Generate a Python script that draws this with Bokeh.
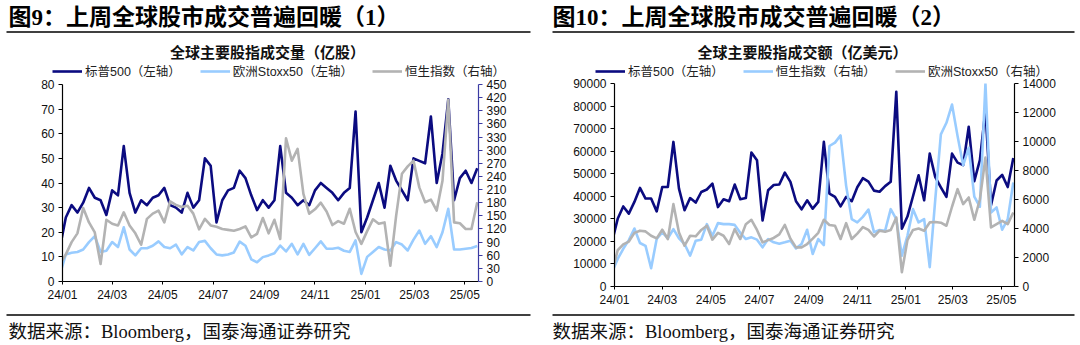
import pandas as pd
from bokeh.plotting import figure
from bokeh.models import (Range1d, LinearAxis, FixedTicker, DatetimeTickFormatter,
                          Legend, LegendItem, Label)
from bokeh.layouts import row, column
from bokeh.embed import file_html
from bokeh.resources import INLINE

# ---------------- data ----------------
week_dates = pd.date_range("2023-12-29", periods=73, freq="7D")  # weekly (Fridays)

x_tick_dates = ["2024-01-01", "2024-03-01", "2024-05-01", "2024-07-01", "2024-09-01",
                "2024-11-01", "2025-01-01", "2025-03-01", "2025-05-01"]
x_tick_labels = ["24/01", "24/03", "24/05", "24/07", "24/09", "24/11", "25/01", "25/03", "25/05"]

# Chart 1: volume (100m shares)
p1_spx = [14, 26, 31, 28, 32, 38, 34, 33, 27, 37, 35, 55, 36, 28, 33, 31, 34, 35, 38, 31,
          30, 28, 36, 30, 33, 50, 47, 24, 33, 37, 38, 45, 42, 35, 29, 33, 30, 33, 55, 36,
          34, 31, 33, 31, 37, 40, 38, 36, 33, 36, 38, 69, 20, 26, 33, 40, 30, 47, 41, 37,
          33, 50, 49, 48, 67, 40, 52, 74, 33, 42, 45, 40, 46]
p1_stoxx = [3, 11, 11.7, 12, 13, 16, 18.4, 12, 12.5, 16, 14, 22, 13, 10.6, 13.5, 13.5, 14.5,
            16.3, 14, 13.5, 15, 11, 14, 12.6, 16, 16.5, 13.5, 11, 10.6, 11, 11.8, 16.2, 14.5,
            9, 7.8, 9.9, 10.6, 11.5, 14.6, 12.2, 15.3, 11, 15.3, 10.8, 13.5, 16.3, 13.3, 13.3,
            13.7, 12.5, 12, 16.7, 3.1, 10, 12, 14, 13, 12.6, 16, 15, 12.6, 17, 20.7, 15.3,
            18.4, 14, 20, 29.5, 13, 13, 13.3, 13.6, 14.4]
p1_hsi = [40, 62, 90, 110, 168, 135, 112, 40, 141, 132, 128, 158, 128, 110, 84, 143, 155, 162,
          135, 183, 175, 170, 173, 155, 119, 143, 128, 125, 120, 118, 116, 120, 126, 101, 109,
          145, 110, 141, 97, 327, 276, 303, 200, 155, 165, 180, 160, 129, 138, 132, 166, 113,
          86, 115, 142, 132, 135, 36, 150, 246, 263, 276, 215, 181, 187, 162, 230, 415, 135,
          133, 120, 120, 181]

# Chart 2: turnover (100m USD)
p2_spx = [20000, 30000, 35500, 32300, 37500, 43700, 39000, 39000, 33300, 44100, 44100, 64100,
          43400, 33800, 39200, 37200, 41900, 43000, 45600, 35200, 38700, 37800, 45200, 38700,
          39200, 59400, 56000, 29300, 42700, 45000, 45200, 50500, 46400, 37800, 34200, 38200,
          34500, 37500, 64100, 41200, 39700, 35500, 39700, 37800, 44000, 48000, 46500, 42500,
          42000, 44500, 46400, 86300, 25600, 31000, 40000, 49300, 38200, 58900, 48500, 44000,
          39700, 58900, 54900, 53800, 70800, 46700, 56000, 78200, 36000, 47000, 49500, 44100,
          57000]
p2_hsi = [1000, 1900, 2600, 3200, 4000, 3000, 2800, 1260, 3275, 3730, 3320, 3960, 3320, 2930,
          2130, 3160, 3230, 4300, 3500, 4370, 4300, 4300, 4250, 3700, 3275, 3390, 3230, 2700,
          3275, 3045, 2950, 3050, 3160, 2630, 2930, 3915, 2245, 3275, 2860, 9690, 9920, 10420,
          6940, 4650, 4420, 4800, 5300, 3750, 3900, 3850, 5335, 4650, 2130, 3500, 5335, 4420,
          4650, 1330, 6020, 10490, 11290, 12550, 10370, 8360, 9570, 6200, 5500, 14000, 5100,
          5450, 3915, 4650, 7170]
p2_stoxx = [1000, 2500, 2900, 3100, 3700, 3850, 3800, 3500, 3320, 3915, 3275, 5680, 3730, 2815,
            3500, 3460, 3900, 4190, 3230, 3700, 3500, 2930, 3960, 3275, 4300, 4600, 3900, 3045,
            3200, 3350, 3600, 4250, 3300, 2700, 2700, 2930, 3300, 3700, 4600, 4240, 4190, 3275,
            4370, 3275, 3650, 4100, 3900, 3450, 3850, 3780, 3900, 4760, 985, 3200, 3900, 4000,
            3850, 4420, 4450, 4400, 4190, 5500, 6710, 5680, 6140, 4600, 6000, 8890, 4080, 4300,
            4530, 4300, 5100]

p1_left_ticks = list(range(0, 81, 10))
p1_right_ticks = list(range(0, 451, 30))
p2_left_ticks = list(range(0, 90001, 10000))
p2_right_ticks = list(range(0, 14001, 2000))

# ---------------- style ----------------
NAVY = "#0b0b80"
LIGHT = "#99ccff"
GRAY = "#b3b3b3"
SANS = "'Liberation Sans', 'Noto Sans CJK SC'"
CJK = "'Noto Sans CJK SC'"
SERIF = "'Liberation Serif', 'Noto Sans CJK SC'"

x_start = pd.Timestamp("2024-01-01")
x_end = pd.Timestamp("2025-05-17 12:00")
tick_ms = [pd.Timestamp(d).value / 1e6 for d in x_tick_dates]
W = 540


def blank_fig(height):
    f = figure(width=W, height=height, x_range=Range1d(0, W), y_range=Range1d(height, 0),
               output_backend="svg", toolbar_location=None, title=None,
               x_axis_location=None, y_axis_location=None, frame_align=False,
               min_border=0, min_border_left=0, min_border_right=0,
               min_border_top=0, min_border_bottom=0)
    f.xgrid.visible = False
    f.ygrid.visible = False
    f.outline_line_color = None
    f.background_fill_color = "white"
    f.border_fill_color = "white"
    return f


def style_axis(ax, color="black"):
    ax.axis_line_color = color
    ax.axis_line_width = 1.2
    ax.major_tick_line_color = color
    ax.minor_tick_line_color = None
    ax.major_tick_out = 4
    ax.major_tick_in = 0
    ax.major_label_text_font = SANS
    ax.major_label_text_font_size = "12px"
    ax.major_label_text_color = "#111111"
    ax.major_label_standoff = 4


def header(title, title_x, rule_x0, rule_x1, subtitle, sub_x, series, legend_x, height):
    h = blank_fig(height)
    h.add_layout(Label(x=title_x, y=17, text=title, text_align="left", text_baseline="middle",
                       text_font=SERIF, text_font_style="bold", text_font_size="23px",
                       text_color="#000000"))
    h.segment(x0=[rule_x0], y0=[31.5], x1=[rule_x1], y1=[31.5], line_color="black", line_width=1.5)
    h.add_layout(Label(x=sub_x, y=51, text=subtitle, text_align="center", text_baseline="middle",
                       text_font=CJK, text_font_style="bold", text_font_size="15px",
                       text_color="#111111"))
    items = []
    for label, color in series:
        # legend swatch proxy: a single off-canvas point (nothing visible is drawn)
        r = h.line(x=[-100], y=[-100], line_color=color, line_width=2.6)
        items.append(LegendItem(label=label, renderers=[r]))
    legend = Legend(items=items, orientation="horizontal", location=(legend_x, height - 80),
                    margin=0, padding=0, spacing=19, glyph_width=30, glyph_height=14,
                    label_height=14, label_standoff=3, label_text_font=SANS,
                    label_text_font_size="12.5px", label_text_color="#222222",
                    border_line_color=None, background_fill_alpha=0)
    h.add_layout(legend)
    return h


def footer(text, text_x, rule_x0, rule_x1):
    f = blank_fig(35)
    f.segment(x0=[rule_x0], y0=[4.5], x1=[rule_x1], y1=[4.5], line_color="black", line_width=1.5)
    f.add_layout(Label(x=text_x, y=21, text=text, text_align="left", text_baseline="middle",
                       text_font=SERIF, text_font_size="18.5px", text_color="#111111"))
    return f


def make_panel(height, left_max, left_ticks, right_max, right_ticks, series,
               right_color, border_l, border_r, border_t, border_b):
    p = figure(width=W, height=height, x_axis_type="datetime", title=None,
               x_range=Range1d(x_start, x_end), y_range=Range1d(0, left_max),
               output_backend="svg", toolbar_location=None, frame_align=False,
               min_border_left=border_l, min_border_right=border_r,
               min_border_top=border_t, min_border_bottom=border_b)
    p.extra_y_ranges = {"right": Range1d(0, right_max)}
    p.xgrid.visible = False
    p.ygrid.visible = False
    p.outline_line_color = None
    p.background_fill_color = "white"
    p.border_fill_color = "white"

    p.yaxis.ticker = FixedTicker(ticks=left_ticks)
    style_axis(p.yaxis[0])
    rax = LinearAxis(y_range_name="right", ticker=FixedTicker(ticks=right_ticks))
    style_axis(rax, right_color)
    p.add_layout(rax, "right")

    p.xaxis.ticker = FixedTicker(ticks=tick_ms)
    p.xaxis.formatter = DatetimeTickFormatter(
        milliseconds="%y/%m", seconds="%y/%m", minsec="%y/%m", minutes="%y/%m",
        hourmin="%y/%m", hours="%y/%m", days="%y/%m", months="%y/%m", years="%y/%m")
    style_axis(p.xaxis[0])
    p.xaxis.major_tick_out = 3
    p.xaxis.major_label_standoff = 3

    for label, vals, color, side in series:
        kw = {"y_range_name": "right"} if side == "right" else {}
        p.line(week_dates, vals, line_color=color, line_width=2.6, line_join="round", **kw)
    return p


s1 = [("标普500（左轴）", p1_spx, NAVY, "left"),
      ("欧洲Stoxx50（左轴）", p1_stoxx, LIGHT, "left"),
      ("恒生指数（右轴）", p1_hsi, GRAY, "right")]
s2 = [("标普500（左轴）", p2_spx, NAVY, "left"),
      ("恒生指数（右轴）", p2_hsi, LIGHT, "right"),
      ("欧洲Stoxx50（右轴）", p2_stoxx, GRAY, "right")]

h1 = header("图9：上周全球股市成交普遍回暖（1）", 8, 6, 530, "全球主要股指成交量（亿股）", 267,
            [(s[0], s[2]) for s in s1], 52, 79)
p1 = make_panel(231, 80, p1_left_ticks, 450, p1_right_ticks, s1, "#3b3ba3", 62, 62, 5, 29)
f1 = footer("数据来源：Bloomberg，国泰海通证券研究", 8, 6, 530)

h2 = header("图10：上周全球股市成交普遍回暖（2）", 12, 12, 534, "全球主要股指成交额（亿美元）", 262,
            [(s[0], s[2]) for s in s2], 55, 78)
p2 = make_panel(232, 90000, p2_left_ticks, 14000, p2_right_ticks, s2, "black", 74, 66, 5, 24)
f2 = footer("数据来源：Bloomberg，国泰海通证券研究", 12, 12, 534)

col1 = column(h1, p1, f1, spacing=0, margin=0)
col2 = column(h2, p2, f2, spacing=0, margin=0)
layout = row(col1, col2, spacing=0, margin=0)

open("out.html", "w").write(file_html(layout, INLINE))
